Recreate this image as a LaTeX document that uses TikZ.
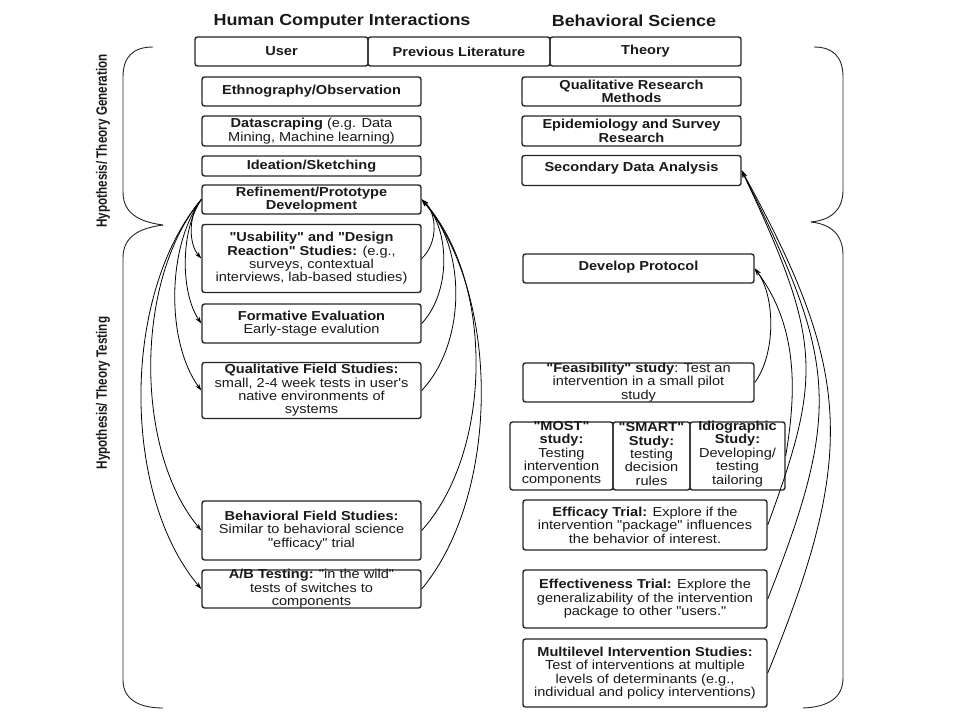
\documentclass[tikz,border=0pt]{standalone}
\usepackage{fontspec}
\setmainfont{Liberation Sans}[FakeStretch=1.12, Ligatures=TeXOff]
\newfontfamily\narrowfont{Liberation Sans}[FakeStretch=0.78, Ligatures=TeXOff]
\usetikzlibrary{arrows.meta}
\begin{document}
\begin{tikzpicture}[x=1pt,y=-1pt,
  box/.style={draw=black!85, line width=1.4pt, rounded corners=2.5pt, inner sep=0pt},
  txt/.style={align=center, font=\fontsize{13}{13.4}\selectfont, inner sep=0pt, text=black!90},
  head/.style={font=\fontsize{16}{18}\selectfont\bfseries, inner sep=0pt, text=black!90},
  rot/.style={font=\narrowfont\fontsize{15}{17}\selectfont\bfseries, inner sep=0pt, rotate=90, text=black!90},
  arr/.style={-{Stealth[length=7pt,width=4.5pt]}, line width=0.8pt},
  brace/.style={line width=0.9pt, draw=black!85}]
\fill[white] (0,0) rectangle (960,720);
\useasboundingbox (0,0) rectangle (960,720);

% headers
\node[head] (hci) at (342,21) {Human Computer Interactions};
\node[head] (bsc) at (634,21) {Behavioral Science};

% top row
\node[box, minimum width=173pt, minimum height=29pt] (user) at (281.5,51.5) {};
\node[txt] (user-t) at (user) {\textbf{User}};
\node[box, minimum width=182pt, minimum height=29pt] (prev) at (459,51.5) {};
\node[txt] (prev-t) at (prev) {\textbf{Previous Literature}};
\node[box, minimum width=191pt, minimum height=29pt] (theo) at (645.5,51.5) {};
\node[txt] (theo-t) at (theo) {\textbf{Theory}};

% left column
\node[box, minimum width=219pt, minimum height=29pt] (eth) at (311.5,91.5) {};
\node[txt] (eth-t) at (eth) {\textbf{Ethnography/Observation}};
\node[box, minimum width=219pt, minimum height=30pt] (data) at (311.5,131) {};
\node[txt] (data-t) at (data) {\textbf{Datascraping} (e.g. Data\\Mining, Machine learning)};
\node[box, minimum width=219pt, minimum height=20pt] (idea) at (311.5,166) {};
\node[txt] (idea-t) at (idea) {\textbf{Ideation/Sketching}};
\node[box, minimum width=219pt, minimum height=29pt] (ref) at (311.5,199.5) {};
\node[txt] (ref-t) at (ref) {\textbf{Refinement/Prototype}\\\textbf{Development}};
\node[box, minimum width=219pt, minimum height=68pt] (usab) at (311.5,258.5) {};
\node[txt] (usab-t) at (usab) {\textbf{"Usability" and "Design}\\\textbf{Reaction" Studies:} (e.g.,\\surveys, contextual\\interviews, lab-based studies)};
\node[box, minimum width=219pt, minimum height=39pt] (form) at (311.5,323.5) {};
\node[txt] (form-t) at (form) {\textbf{Formative Evaluation}\\Early-stage evalution};
\node[box, minimum width=219pt, minimum height=56pt] (qual) at (311.5,390.5) {};
\node[txt] (qual-t) at (qual) {\textbf{Qualitative Field Studies:}\\small, 2-4 week tests in user's\\native environments of\\systems};
\node[box, minimum width=219pt, minimum height=59pt] (behav) at (311.5,530.5) {};
\node[txt] (behav-t) at (behav) {\textbf{Behavioral Field Studies:}\\Similar to behavioral science\\"efficacy" trial};
\node[box, minimum width=219pt, minimum height=38pt] (ab) at (311.5,589) {};
\node[txt] (ab-t) at (ab) {\textbf{A/B Testing:} "in the wild"\\tests of switches to\\components};

% right column
\node[box, minimum width=219pt, minimum height=29pt] (qrm) at (631.5,91.5) {};
\node[txt] (qrm-t) at (qrm) {\textbf{Qualitative Research}\\\textbf{Methods}};
\node[box, minimum width=219pt, minimum height=30pt] (epi) at (631.5,131) {};
\node[txt] (epi-t) at (epi) {\textbf{Epidemiology and Survey}\\\textbf{Research}};
\node[box, minimum width=219pt, minimum height=30pt] (sda) at (631.5,170.5) {};
\node[txt] (sda-t) at (631.5,168.5) {\textbf{Secondary Data Analysis}};
\node[box, minimum width=231pt, minimum height=29pt] (dev) at (638.5,268.5) {};
\node[txt] (dev-t) at (638.5,267.5) {\textbf{Develop Protocol}};
\node[box, minimum width=231pt, minimum height=39pt] (feas) at (638.5,382.5) {};
\node[txt] (feas-t) at (feas) {\textbf{"Feasibility" study}: Test an\\intervention in a small pilot\\study};
\node[box, minimum width=103pt, minimum height=68pt] (most) at (561.5,456) {};
\node[txt] (most-t) at (561.5,454) {\textbf{"MOST"}\\\textbf{study:}\\Testing\\intervention\\components};
\node[box, minimum width=77pt, minimum height=68pt] (smart) at (651.5,456) {};
\node[txt] (smart-t) at (651.5,454) {\textbf{"SMART"}\\\textbf{Study:}\\testing\\decision\\rules};
\node[box, minimum width=95pt, minimum height=68pt] (idio) at (737.5,456) {};
\node[txt] (idio-t) at (737.5,454) {\textbf{Idiographic}\\\textbf{Study:}\\Developing/\\testing\\tailoring};
\node[box, minimum width=244pt, minimum height=50pt] (effic) at (645,525) {};
\node[txt] (effic-t) at (effic) {\textbf{Efficacy Trial:} Explore if the\\intervention "package" influences\\the behavior of interest.};
\node[box, minimum width=244pt, minimum height=58pt] (effec) at (645,599) {};
\node[txt] (effec-t) at (effec) {\textbf{Effectiveness Trial:} Explore the\\generalizability of the intervention\\package to other "users."};
\node[box, minimum width=244pt, minimum height=68pt] (multi) at (645,673) {};
\node[txt] (multi-t) at (multi) {\textbf{Multilevel Intervention Studies:}\\Test of interventions at multiple\\levels of determinants (e.g.,\\individual and policy interventions)};

% side labels
\node[rot] (lgen) at (103,141) {Hypothesis/ Theory Generation};
\node[rot] (ltest) at (103,393) {Hypothesis/ Theory Testing};

% braces
\coordinate (lt) at (153,47);
\coordinate (lc) at (163,225);
\coordinate (lb) at (163,708);
\draw[brace] (lt) .. controls (133,47) and (123,57) .. (123,77) -- (123,192) .. controls (123,214) and (140,222) .. (lc);
\draw[brace] (lc) .. controls (140,228) and (123,236) .. (123,258) -- (123,680) .. controls (123,700) and (140,708) .. (lb);
\coordinate (rt) at (814,47);
\coordinate (rc) at (811,222);
\coordinate (rb) at (803,708);
\draw[brace] (rt) .. controls (833,47) and (843,57) .. (843,77) -- (843,190) .. controls (843,211) and (830,220) .. (rc);
\draw[brace] (rc) .. controls (830,224) and (843,234) .. (843,255) -- (843,678) .. controls (843,698) and (828,707) .. (rb);

% HCI loops
\draw[arr] (ref.west) .. controls +(-13,15) and +(-13,-15) .. (usab.west);
\draw[arr] (ref.west) .. controls +(-21,31) and +(-21,-31) .. (form.west);
\draw[arr] (ref.west) .. controls +(-35,48) and +(-35,-48) .. (qual.west);
\draw[arr] (ref.west) .. controls +(-67,80) and +(-67,-80) .. (behav.west);
\draw[arr] (ref.west) .. controls +(-80,95) and +(-80,-95) .. (ab.west);
\draw[arr] (usab.east) .. controls +(16,-15) and +(16,15) .. (ref.east);
\draw[arr] (form.east) .. controls +(29,-31) and +(29,31) .. (ref.east);
\draw[arr] (qual.east) .. controls +(45,-48) and +(45,48) .. (ref.east);
\draw[arr] (behav.east) .. controls +(72,-80) and +(72,80) .. (ref.east);
\draw[arr] (ab.east) .. controls +(79,-95) and +(79,95) .. (ref.east);

% behavioral science loops
\draw[arr] (feas.east) .. controls +(21,-28) and +(21,28) .. (dev.east);
\draw[arr] (idio.east) .. controls +(10,-60) and +(45,60) .. (dev.east);
\draw[arr] (effic.east) .. controls +(55,-150) and +(80,170) .. (sda.east);
\draw[arr] (effec.east) .. controls +(75,-190) and +(95,190) .. (sda.east);
\draw[arr] (multi.east) .. controls +(90,-220) and +(110,200) .. (sda.east);
\end{tikzpicture}
\end{document}
